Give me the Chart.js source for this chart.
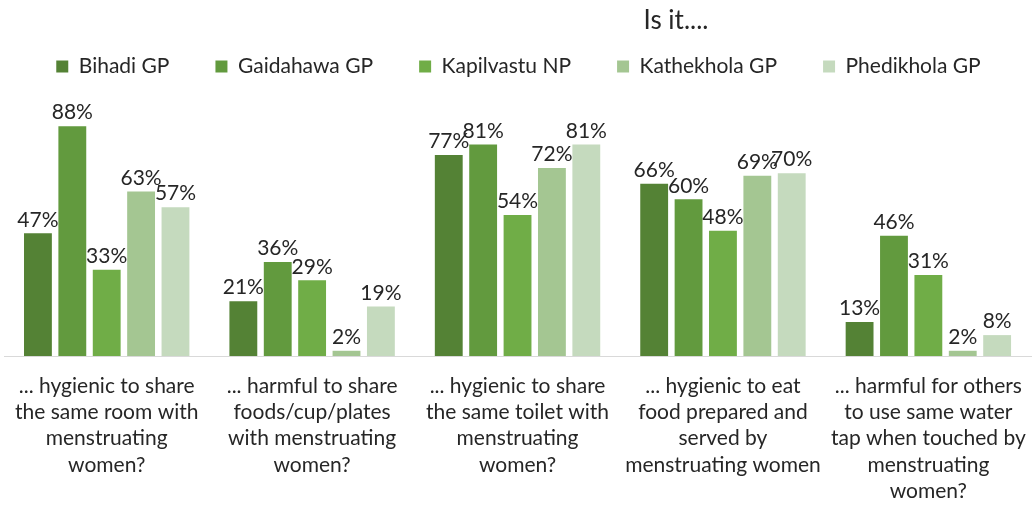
<!DOCTYPE html>
<html>
<head>
<meta charset="utf-8">
<script src="https://cdn.jsdelivr.net/npm/chart.js@4"></script>
<style>
  html, body { margin: 0; padding: 0; background: #fff; }
  #wrap { width: 1035px; height: 511px; }
</style>
</head>
<body>
<div id="wrap"><canvas id="chart"></canvas></div>
<script>
const categories = [
  ['... hygienic to share', 'the same room with', 'menstruating', 'women?'],
  ['... harmful to share', 'foods/cup/plates', 'with menstruating', 'women?'],
  ['... hygienic to share', 'the same toilet with', 'menstruating', 'women?'],
  ['... hygienic to eat', 'food prepared and', 'served by', 'menstruating women'],
  ['... harmful for others', 'to use same water', 'tap when touched by', 'menstruating', 'women?']
];
const seriesNames = ['Bihadi GP', 'Gaidahawa GP', 'Kapilvastu NP', 'Kathekhola GP', 'Phedikhola GP'];
const bihadi = [47, 21, 77, 66, 13];
const gaidahawa = [88, 36, 81, 60, 46];
const kapilvastu = [33, 29, 54, 48, 31];
const kathekhola = [63, 2, 72, 69, 2];
const phedikhola = [57, 19, 81, 70, 8];
const colors = ['#548235', '#629A3E', '#70AD47', '#A4C692', '#C5DABE'];
const titleText = 'Is it....';

const FONT = 'Lato, "Open Sans", sans-serif';
const seriesValues = [bihadi, gaidahawa, kapilvastu, kathekhola, phedikhola];

const valueLabels = {
  id: 'valueLabels',
  afterDatasetsDraw(chart) {
    const ctx = chart.ctx;
    ctx.save();
    ctx.font = '21px ' + FONT;
    ctx.fillStyle = '#262626';
    ctx.textAlign = 'center';
    ctx.textBaseline = 'bottom';
    chart.data.datasets.forEach((ds, i) => {
      chart.getDatasetMeta(i).data.forEach((bar, j) => {
        ctx.fillText(ds.data[j] + '%', bar.x, bar.y - 3);
      });
    });
    ctx.restore();
  }
};

const topTitle = {
  id: 'topTitle',
  afterDraw(chart) {
    const ctx = chart.ctx;
    ctx.save();
    ctx.font = '26px ' + FONT;
    ctx.fillStyle = '#262626';
    ctx.textAlign = 'center';
    ctx.textBaseline = 'middle';
    ctx.fillText(titleText, 676, 21);
    ctx.restore();
  }
};

new Chart(document.getElementById('chart').getContext('2d'), {
  type: 'bar',
  data: {
    labels: categories,
    datasets: seriesNames.map((name, i) => ({
      label: name,
      data: seriesValues[i],
      backgroundColor: colors[i],
      borderWidth: 0,
      categoryPercentage: 0.837,
      barPercentage: 0.81
    }))
  },
  options: {
    responsive: true,
    maintainAspectRatio: false,
    animation: false,
    layout: { padding: { top: 10, left: 4, right: 2, bottom: 0 } },
    plugins: {
      legend: {
        position: 'top',
        labels: {
          font: { family: FONT, size: 21 },
          color: '#262626',
          boxWidth: 12,
          boxHeight: 12,
          padding: 46
        }
      },
      tooltip: { enabled: false }
    },
    scales: {
      x: {
        grid: { display: false },
        border: { color: '#d9d9d9', width: 1 },
        ticks: {
          font: { family: FONT, size: 21, lineHeight: 1.25 },
          color: '#262626',
          autoSkip: false,
          maxRotation: 0,
          minRotation: 0,
          padding: 9
        },
        afterFit(scale) { scale.height = 155; }
      },
      y: {
        display: false,
        min: 0,
        max: 103
      }
    }
  },
  plugins: [valueLabels, topTitle]
});
</script>
</body>
</html>
